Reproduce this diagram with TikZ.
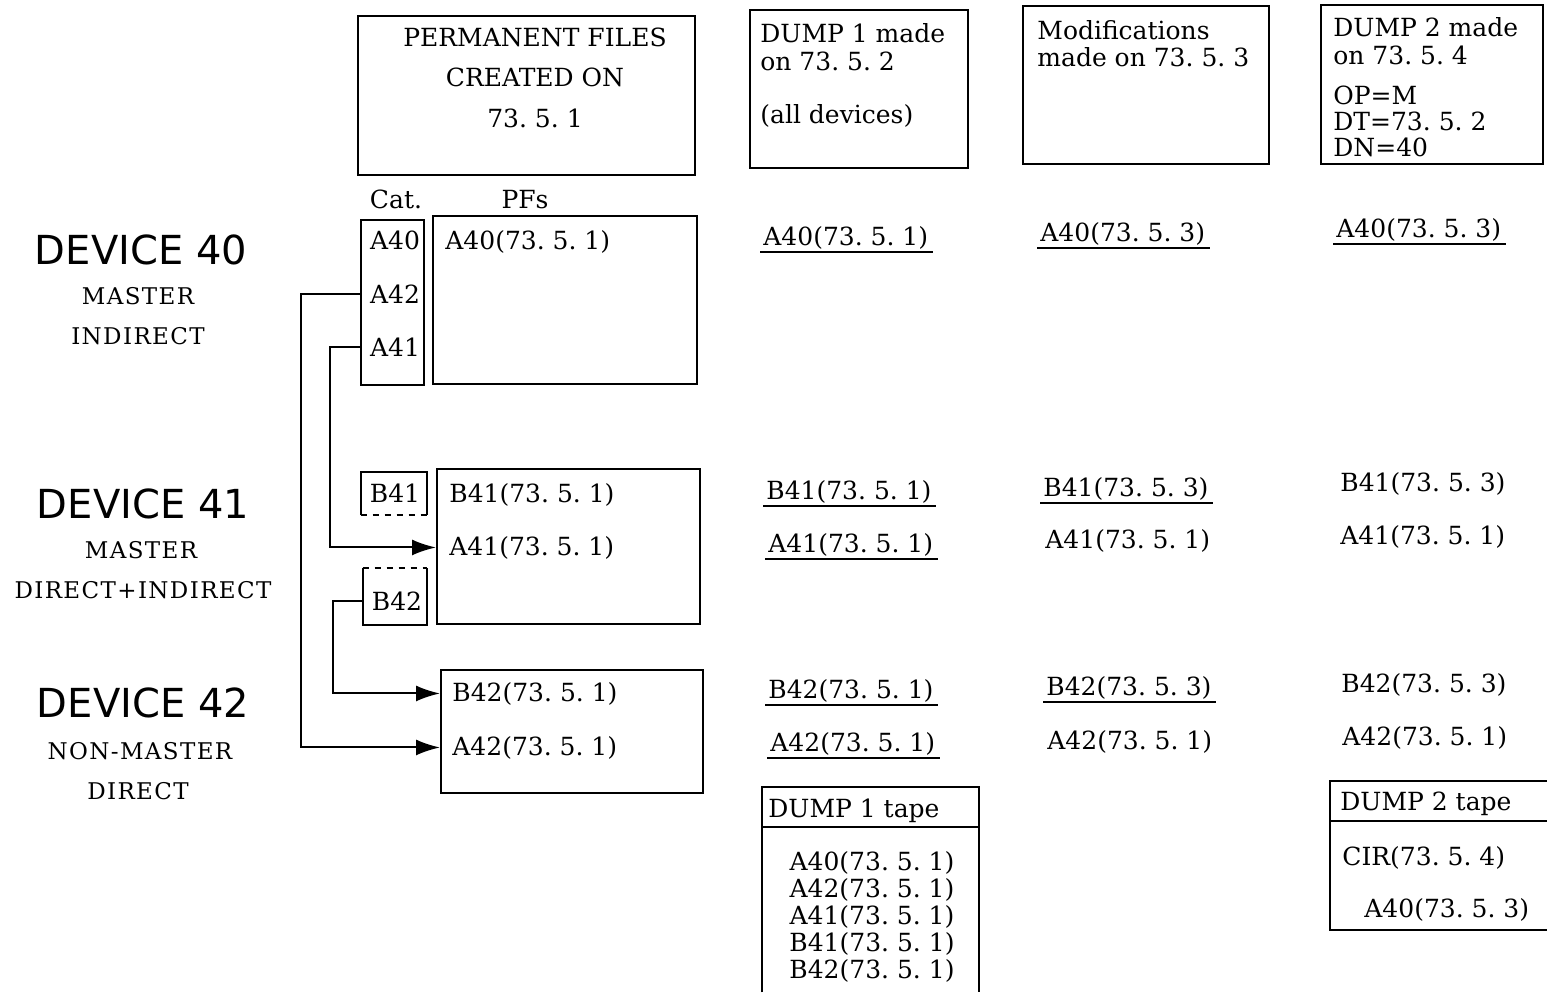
\documentclass[tikz,border=0pt]{standalone}
\usepackage{fontspec}
\setmainfont{DejaVu Serif}
\newfontfamily\devfont{DejaVu Sans}
\newfontfamily\subfont[LetterSpace=6]{DejaVu Serif}
\usetikzlibrary{arrows.meta, fit, positioning}
\frenchspacing
\tikzset{
  box/.style={draw, line width=1pt, inner sep=0pt},
  area/.style={inner sep=0pt},
  txt/.style={font=\fontsize{12.5}{13.5}\selectfont, inner sep=0pt, anchor=base west},
  ctxt/.style={txt, anchor=base},
  devtitle/.style={font=\devfont\fontsize{20}{22}\selectfont, inner sep=0pt, anchor=base},
  devsub/.style={font=\subfont\fontsize{11.5}{12}\selectfont, inner sep=0pt, anchor=base},
  line/.style={line width=1pt},
  sepline/.style={line width=1.3pt},
  arrow/.style={-{Latex[length=12pt, width=8pt]}, line width=1pt}
}
\newcommand{\entryline}[1]{%
  \draw[line] ([xshift=-1.5pt, yshift=-3.5pt]#1.base west) -- ([xshift=2pt, yshift=-3.5pt]#1.base east);}

\begin{document}
\begin{tikzpicture}[x=0.5pt, y=-0.5pt]
  \useasboundingbox (0,0) rectangle (1547,992);

  % Header boxes
  \node[box, fit={(358,16) (695,175)}] (hdrpf) {};
  \node[box, fit={(750,10) (968,168)}] (hdrd1) {};
  \node[box, fit={(1023,6) (1269,164)}] (hdrmod) {};
  \node[box, fit={(1321,5) (1543,164)}] (hdrd2) {};

  \foreach \t/\y [count=\i] in {PERMANENT FILES/46, CREATED ON/86, 73. 5. 1/127}
    \node[ctxt] (pf-\i) at (535,\y) {\t};
  \foreach \t/\y [count=\i] in {DUMP 1 made/42, on 73. 5. 2/70, {(all devices)}/123}
    \node[txt] (d1-\i) at (760,\y) {\t};
  \foreach \t/\y [count=\i] in {Modifications/39, made on 73. 5. 3/66}
    \node[txt] (md-\i) at (1037,\y) {\t};
  \foreach \t/\y [count=\i] in {DUMP 2 made/36, on 73. 5. 4/64, OP=M/104, DT=73. 5. 2/130, DN=40/156}
    \node[txt] (d2-\i) at (1333,\y) {\t};

  % Column heads
  \node[ctxt] (cathead) at (396,208) {Cat.};
  \node[ctxt] (pfhead) at (525,208) {PFs};

  % Device 40
  \node[box, fit={(361,220) (424,385)}] (cat40) {};
  \node[box, fit={(433,216) (697,384)}] (pf40) {};
  \node[ctxt] (c40) at (395,249) {A40};
  \node[ctxt] (c42) at (395,303) {A42};
  \node[ctxt] (c41) at (395,356) {A41};
  \node[txt] (p40a40) at (445,249) {A40(73. 5. 1)};

  % Device 41
  \node[area, fit={(361,472) (427,515)}] (b41box) {};
  \draw[line] (b41box.south west) |- (b41box.north east) -- (b41box.south east);
  \draw[line, dashed] (b41box.south west) -- (b41box.south east);
  \node[ctxt] (cb41) at (395,502) {B41};
  \node[area, fit={(363,568) (427,625)}] (b42box) {};
  \draw[line] (b42box.north west) |- (b42box.south east) -- (b42box.north east);
  \draw[line, dashed] (b42box.north west) -- (b42box.north east);
  \node[ctxt] (cb42) at (397,610) {B42};
  \node[box, fit={(437,469) (700,624)}] (pf41) {};
  \node[txt] (p41b41) at (449,502) {B41(73. 5. 1)};
  \node[txt] (p41a41) at (449,555) {A41(73. 5. 1)};

  % Device 42
  \node[box, fit={(441,670) (703,793)}] (pf42) {};
  \node[txt] (p42b42) at (452,701) {B42(73. 5. 1)};
  \node[txt] (p42a42) at (452,755) {A42(73. 5. 1)};

  % Catalog links
  \draw[arrow] (cat40.west |- c42) -- ++(-59,0) |- (pf42.west |- p42a42);
  \draw[arrow] (cat40.west |- c41) -- ++(-30,0) |- (pf41.west |- p41a41);
  \draw[arrow] (b42box.west |- cb42) -- ++(-30,0) |- (pf42.west |- p42b42);

  % Device labels
  \node[devtitle] (dev40) at (141,264) {DEVICE 40};
  \node[devsub] (dev40a) at (138,304) {MASTER};
  \node[devsub] (dev40b) at (138,344) {INDIRECT};
  \node[devtitle] (dev41) at (143,518) {DEVICE 41};
  \node[devsub] (dev41a) at (141,558) {MASTER};
  \node[devsub] (dev41b) at (143,598) {DIRECT+INDIRECT};
  \node[devtitle] (dev42) at (143,717) {DEVICE 42};
  \node[devsub] (dev42a) at (140,759) {NON-MASTER};
  \node[devsub] (dev42b) at (138,799) {DIRECT};

  % Dump and modification columns
  \foreach \n/\x/\y/\t in {
      d1a40/763/245/A40(73. 5. 1), d1b41/766/499/B41(73. 5. 1), d1a41/768/552/A41(73. 5. 1),
      d1b42/768/698/B42(73. 5. 1), d1a42/770/751/A42(73. 5. 1),
      mda40/1040/241/A40(73. 5. 3), mdb41/1043/496/B41(73. 5. 3), mda41/1045/548/A41(73. 5. 1),
      mdb42/1046/695/B42(73. 5. 3), mda42/1047/749/A42(73. 5. 1),
      d2a40/1336/237/A40(73. 5. 3), d2b41/1340/491/B41(73. 5. 3), d2a41/1340/544/A41(73. 5. 1),
      d2b42/1341/692/B42(73. 5. 3), d2a42/1342/745/A42(73. 5. 1)}
    \node[txt] (\n) at (\x,\y) {\t};
  \foreach \n in {d1a40, d1b41, d1a41, d1b42, d1a42, mda40, mdb41, mdb42, d2a40}
    {\entryline{\n}}

  % DUMP 1 tape
  \node[area, fit={(762,787) (979,992)}] (tape1) {};
  \draw[line] (tape1.south west) |- (tape1.north east) -- (tape1.south east);
  \draw[sepline] (762,827) -- (979,827);
  \node[txt] (tape1head) at (768,817) {DUMP 1 tape};
  \foreach \t/\y [count=\i] in {A40/870, A42/897, A41/924, B41/951, B42/978}
    \node[ctxt] (tape1-\i) at (872,\y) {\t(73. 5. 1)};

  % DUMP 2 tape
  \node[area, fit={(1330,781) (1547,930)}] (tape2) {};
  \draw[line] (tape2.north east) -| (tape2.south west) -- (tape2.south east);
  \draw[sepline] (1330,821) -- (1547,821);
  \node[txt] (tape2head) at (1340,810) {DUMP 2 tape};
  \node[txt] (tape2cir) at (1342,865) {CIR(73. 5. 4)};
  \node[txt] (tape2a40) at (1364,917) {A40(73. 5. 3)};
\end{tikzpicture}
\end{document}
